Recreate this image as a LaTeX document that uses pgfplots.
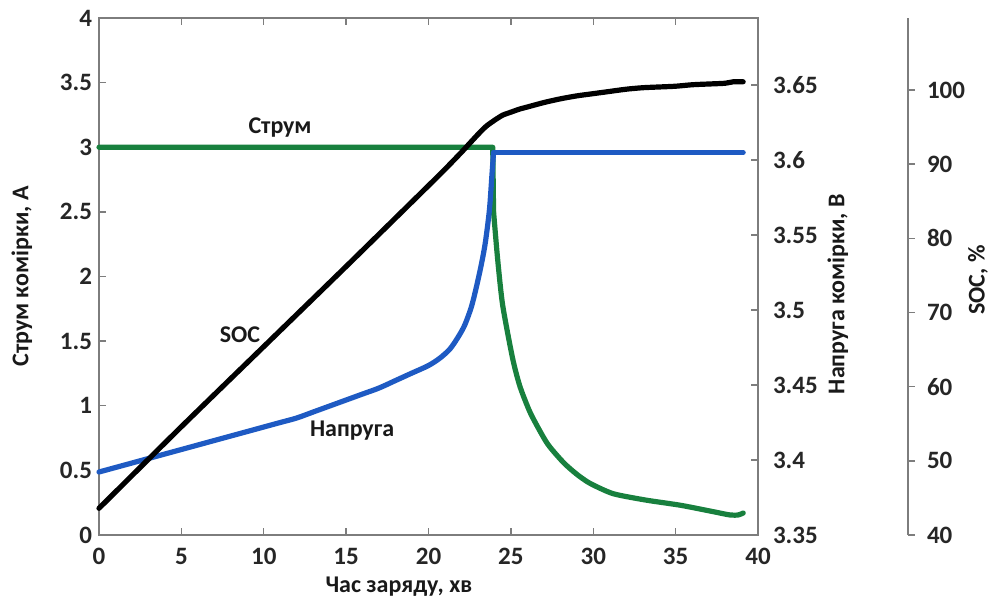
\documentclass[border=0pt]{standalone}
\usepackage{pgfplots}
\pgfplotsset{compat=1.18}
\usepackage{fontspec}
\setmainfont{Carlito}
\definecolor{cgreen}{RGB}{24,128,62}
\definecolor{cblue}{RGB}{30,90,195}
\definecolor{axgray}{RGB}{125,125,125}
\tikzset{
  lab/.style={font=\fontsize{12}{14}\selectfont\bfseries, text=black!90},
  curve/.style={line width=2.6pt, line join=round, line cap=round},
}
\begin{document}
\begin{tikzpicture}
\useasboundingbox (-49.5pt,-33pt) rectangle (447pt,267.5pt);
\pgfplotsset{
  common/.style={scale only axis, width=329.5pt, height=258.5pt,
    every tick label/.append style={font=\fontsize{12.5}{14}\selectfont\bfseries, text=black!85},
    /pgf/number format/assume math mode=true,
    axis line style={axgray, line width=0.7pt},
    every tick/.style={axgray, line width=0.7pt},
    major tick length=3.5pt,
  },
}
% Current (left axis)
\begin{axis}[common, xmin=0, xmax=40, ymin=0, ymax=4,
  xtick={0,5,10,15,20,25,30,35,40},
  ytick={0,0.5,1,1.5,2,2.5,3,3.5,4},
  tick align=inside, xtick pos=both, ytick pos=left,
  xticklabel style={yshift=-3pt},
  xlabel={Час заряду, хв}, ylabel={Струм комірки, A},
  every axis x label/.style={at={(rel axis cs:0.455,-0.099)}, anchor=center, lab},
  every axis y label/.style={at={(rel axis cs:-0.117,0.5)}, rotate=90, anchor=center, lab},
  clip=false]
\addplot[cgreen, curve] coordinates {(0,3.0) (23.9,3.0) (23.95,2.5)};
\addplot[cgreen, curve, smooth, tension=0.4] coordinates {
(23.95,2.5) (24.2,2.13) (24.5,1.78) (25.1,1.37) (25.55,1.15)
(26.2,0.94) (27.2,0.71) (28.2,0.56) (29,0.47) (29.8,0.40) (31.2,0.32) (33.2,0.27)
(35.3,0.23) (37.3,0.18) (38.3,0.155) (38.8,0.155) (39.1,0.17)};
\node[lab] at (axis cs:10.99,3.15) {Струм};
\node[lab] at (axis cs:8.56,1.55) {SOC};
\node[lab] at (axis cs:15.36,0.81) {Напруга};
\end{axis}
% Voltage (right axis)
\begin{axis}[common, xmin=0, xmax=40, ymin=3.35, ymax=3.6947,
  axis x line=none, axis y line*=right, tick align=inside,
  ytick={3.35,3.4,3.45,3.5,3.55,3.6,3.65},
  yticklabel style={xshift=4pt},
  ylabel={Напруга комірки, В},
  every axis y label/.style={at={(rel axis cs:1.121,0.466)}, rotate=90, anchor=center, lab},
  clip=false]
\addplot[cblue, curve, smooth, tension=0.5] coordinates {
(0,3.392) (1,3.395) (2,3.398) (3,3.401) (4,3.404) (5,3.407) (6,3.410) (7,3.413)
(8,3.416) (9,3.419) (10,3.422) (11,3.425) (12,3.428) (13,3.432) (14,3.436)
(15,3.440) (16,3.444) (17,3.448) (18,3.453) (19,3.458) (20,3.463) (20.7,3.468)
(21.3,3.474) (21.8,3.482) (22.2,3.490) (22.6,3.502) (22.9,3.515) (23.2,3.530)
(23.45,3.545) (23.7,3.567) (23.85,3.590) (23.95,3.605)};
\addplot[cblue, curve] coordinates {(23.95,3.605) (39.1,3.605)};
\end{axis}
% SOC (third axis, shifted)
\begin{axis}[common, at={(75pt,0pt)}, xmin=9.105, xmax=49.105, ymin=40, ymax=109.7,
  axis x line=none, axis y line*=right, tick align=outside,
  ytick={40,50,60,70,80,90,100},
  yticklabel style={xshift=2.5pt},
  ylabel={SOC, \%},
  every axis y label/.style={at={(rel axis cs:1.106,0.493)}, rotate=90, anchor=center, lab},
  clip=false]
\addplot[black, curve, smooth, tension=0.4] coordinates {
(0,43.6) (5,54.6) (10,65.4) (15,76.2) (20,87.1) (21,89.3) (22,91.6) (22.5,92.8)
(23,94.0) (23.5,95.1) (24,95.9) (24.5,96.6) (25,97.0) (25.5,97.4) (26,97.7)
(27,98.3) (28,98.8) (29,99.2) (30,99.5) (31,99.8) (32,100.1) (33,100.3)
(34,100.4) (35,100.5) (36,100.7) (37,100.8) (38,100.9) (38.5,101.1) (39.1,101.1)};
\end{axis}
\end{tikzpicture}
\end{document}
